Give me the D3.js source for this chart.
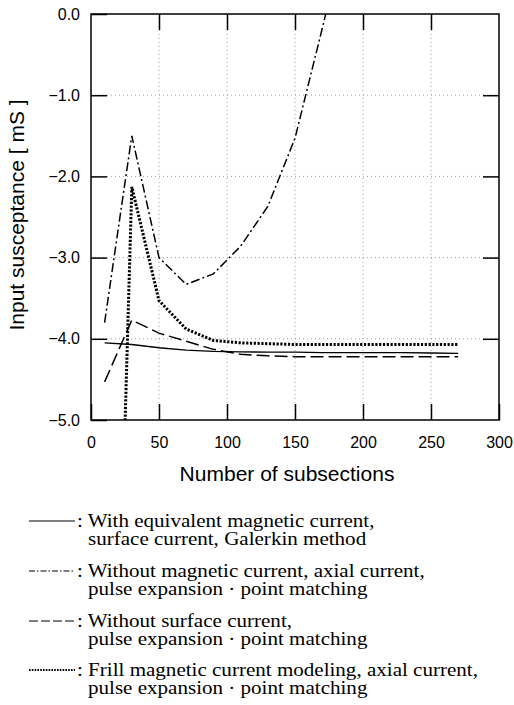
<!DOCTYPE html>
<html>
<head>
<meta charset="utf-8">
<script src="https://cdn.jsdelivr.net/npm/d3@7"></script>
<style>
  body { margin: 0; background: #fff; }
  svg { display: block; }
  .tick text { font-family: "Liberation Sans", Arial, sans-serif; font-size: 16px; fill: #000; }
  .legend text { font-family: "Liberation Serif", "Times New Roman", serif; font-size: 18px; fill: #000; }
</style>
</head>
<body>
<script>
// data
var xGalerkin = [10, 30, 50, 70, 90, 110, 130, 150, 170, 190, 210, 230, 250, 270];
var yGalerkin = [-4.05, -4.07, -4.11, -4.14, -4.155, -4.16, -4.165, -4.165, -4.17, -4.17, -4.17, -4.17, -4.175, -4.18];

var xNoMag = [10, 30, 50, 70, 90, 110, 130, 150, 170, 190];
var yNoMag = [-3.8, -1.5, -3.0, -3.33, -3.2, -2.86, -2.37, -1.53, -0.18, 1.2];

var xNoSurf = [10, 30, 50, 70, 90, 110, 130, 150, 170, 190, 210, 230, 250, 270];
var yNoSurf = [-4.53, -3.77, -3.93, -4.03, -4.13, -4.19, -4.21, -4.22, -4.22, -4.22, -4.22, -4.22, -4.22, -4.22];

var xFrill = [20, 30, 50, 70, 90, 110, 130, 150, 170, 190, 210, 230, 250, 270];
var yFrill = [-8.0, -2.13, -3.53, -3.88, -4.02, -4.05, -4.06, -4.07, -4.07, -4.07, -4.07, -4.07, -4.07, -4.07];

var xTicks = [0, 50, 100, 150, 200, 250, 300];
var yTicks = [0, -1, -2, -3, -4, -5];

var legendLabels = [
  ["With equivalent magnetic current,", "surface current, Galerkin method"],
  ["Without magnetic current, axial current,", "pulse expansion \u00b7 point matching"],
  ["Without surface current,", "pulse expansion \u00b7 point matching"],
  ["Frill magnetic current modeling, axial current,", "pulse expansion \u00b7 point matching"]
];

var W = 514, H = 705;
var margin = {top: 14, right: 15, bottom: 285, left: 91},
    width = W - margin.left - margin.right,
    height = H - margin.top - margin.bottom;

var svg = d3.select("body").append("svg")
    .attr("width", W)
    .attr("height", H);

var g = svg.append("g")
    .attr("transform", "translate(" + margin.left + "," + margin.top + ")");

var x = d3.scaleLinear().domain([0, 300]).range([0, width]);
var y = d3.scaleLinear().domain([-5, 0]).range([height, 0]);

var fmt = function(d) { return d3.format(".1f")(d).replace("-", "\u2212"); };

// grid
g.append("g").selectAll("line")
    .data(xTicks.slice(1, -1))
  .enter().append("line")
    .attr("x1", x).attr("x2", x)
    .attr("y1", 0).attr("y2", height)
    .attr("stroke", "#888").attr("stroke-width", 0.8)
    .attr("stroke-dasharray", "1,3");
g.append("g").selectAll("line")
    .data(yTicks.slice(1, -1))
  .enter().append("line")
    .attr("y1", y).attr("y2", y)
    .attr("x1", 0).attr("x2", width)
    .attr("stroke", "#888").attr("stroke-width", 0.8)
    .attr("stroke-dasharray", "1,3");

// axes with inward ticks
var tickLen = 16;
function styleAxis(a) {
  a.select(".domain").remove();
  a.selectAll("line").attr("stroke-width", 1.5);
}
g.append("g")
    .attr("transform", "translate(0," + height + ")")
    .call(d3.axisBottom(x).tickValues(xTicks).tickSize(-tickLen).tickPadding(17).tickFormat(d3.format("d")))
    .call(styleAxis);
g.append("g")
    .call(d3.axisTop(x).tickValues(xTicks.slice(1, -1)).tickSize(-tickLen).tickFormat(""))
    .call(styleAxis);
g.append("g")
    .call(d3.axisLeft(y).tickValues(yTicks).tickSize(-tickLen).tickPadding(11).tickFormat(fmt))
    .call(styleAxis);
g.append("g")
    .attr("transform", "translate(" + width + ",0)")
    .call(d3.axisRight(y).tickValues(yTicks.slice(1, -1)).tickSize(-tickLen).tickFormat(""))
    .call(styleAxis);

// frame
g.append("rect")
    .attr("width", width).attr("height", height)
    .attr("fill", "none").attr("stroke", "#000").attr("stroke-width", 1.5);

// clip
svg.append("clipPath").attr("id", "plotclip")
  .append("rect").attr("width", width).attr("height", height);

var series = [
  {xs: xGalerkin, ys: yGalerkin, dash: null, w: 1.3},
  {xs: xNoMag, ys: yNoMag, dash: "9,3,2,3", w: 1.5},
  {xs: xNoSurf, ys: yNoSurf, dash: "13,5", w: 1.5},
  {xs: xFrill, ys: yFrill, dash: "2.2,1.6", w: 3}
];

var line = d3.line()
    .x(function(d) { return x(d[0]); })
    .y(function(d) { return y(d[1]); });

var lines = g.append("g").attr("clip-path", "url(#plotclip)");
series.forEach(function(s) {
  lines.append("path")
      .datum(d3.zip(s.xs, s.ys))
      .attr("d", line)
      .attr("fill", "none")
      .attr("stroke", "#000")
      .attr("stroke-width", s.w)
      .attr("stroke-dasharray", s.dash);
});

// axis titles
svg.append("text")
    .attr("x", 287).attr("y", 481)
    .attr("text-anchor", "middle")
    .style("font-family", "'Liberation Sans', Arial, sans-serif")
    .style("font-size", "21px")
    .text("Number of subsections");
svg.append("text")
    .attr("transform", "translate(24,215) rotate(-90)")
    .attr("text-anchor", "middle")
    .style("font-family", "'Liberation Sans', Arial, sans-serif")
    .style("font-size", "21px")
    .text("Input susceptance [ mS ]");

// legend (text is a little wide in the scan, so stretch it)
var rowBase = [527, 577, 627, 676];
var leg = svg.append("g").attr("class", "legend");
legendLabels.forEach(function(lab, i) {
  leg.append("line")
      .attr("x1", 29).attr("x2", 75)
      .attr("y1", rowBase[i] - 6).attr("y2", rowBase[i] - 6)
      .attr("stroke", "#000")
      .attr("stroke-width", i === 3 ? 2.2 : 1.2)
      .attr("stroke-dasharray", i === 1 ? "6,2,1.5,2" : i === 2 ? "9,3" : i === 3 ? "1.6,1.2" : null);
  leg.append("text")
      .attr("transform", "translate(77," + rowBase[i] + ") scale(1.17,1)")
      .text(": " + lab[0]);
  leg.append("text")
      .attr("transform", "translate(88," + (rowBase[i] + 18) + ") scale(1.17,1)")
      .text(lab[1]);
});
</script>
</body>
</html>
